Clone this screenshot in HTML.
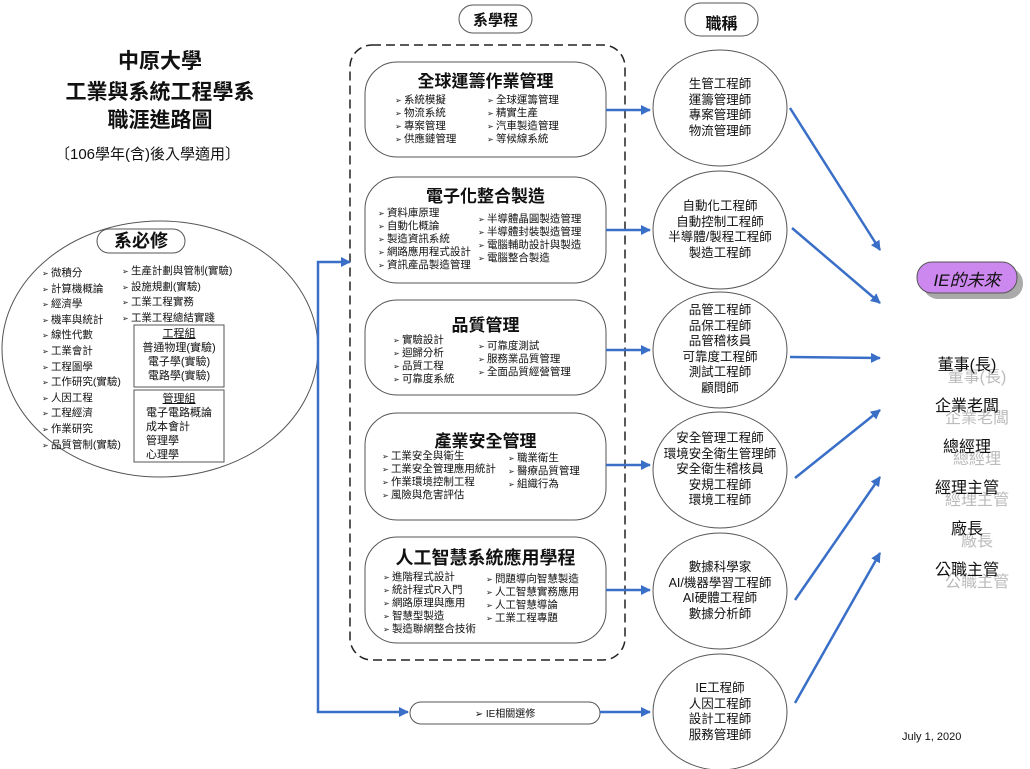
<!DOCTYPE html>
<html><head><meta charset="utf-8"><style>
body{margin:0;width:1030px;height:769px;background:#fff;position:relative;overflow:hidden;font-family:"Liberation Sans","Noto Sans CJK TC",sans-serif;color:#111}
.a{position:absolute;white-space:nowrap}
.t{font-weight:bold;font-size:21px;text-align:center;width:320px;left:0}
.ct{font-weight:bold;font-size:17px;text-align:center;width:241px}
.li{font-size:10.5px;line-height:13px}
.li div:before{content:"➢ ";font-size:8px}
.job{font-size:12.5px;line-height:15.5px;text-align:center;width:140px}
.car{font-size:16px;text-align:center;width:100px;left:917px}
.sh{color:#bbb}
</style></head><body>
<svg class="a" style="left:0;top:0" width="1030" height="769">
<defs><marker id="m" markerWidth="10" markerHeight="10" refX="9" refY="5" orient="auto" markerUnits="userSpaceOnUse"><path d="M0,0 L10,5 L0,10z" fill="#3a6fc8"/></marker></defs>
<ellipse cx="160" cy="349" rx="158" ry="128" fill="#fff" stroke="#555"/>
<rect x="97" y="229" width="88" height="24" rx="12" fill="#fff" stroke="#555"/>
<rect x="134" y="325" width="90" height="62" fill="none" stroke="#555"/>
<rect x="134" y="390" width="90" height="72" fill="none" stroke="#555"/>
<rect x="350" y="45" width="275" height="615" rx="22" fill="none" stroke="#222" stroke-width="1.5" stroke-dasharray="9,5"/>
<rect x="459" y="5" width="73" height="28" rx="14" fill="#fff" stroke="#555"/>
<rect x="685" y="3" width="73" height="33" rx="16" fill="#fff" stroke="#555"/>
<g fill="#fff" stroke="#555">
<rect x="365" y="62" width="241" height="95" rx="32"/>
<rect x="365" y="177" width="241" height="106" rx="32"/>
<rect x="365" y="300" width="241" height="95" rx="32"/>
<rect x="365" y="413" width="241" height="107" rx="32"/>
<rect x="365" y="537" width="241" height="106" rx="32"/>
<rect x="410" y="702" width="190" height="22" rx="11"/>
<ellipse cx="720" cy="108" rx="67" ry="58"/>
<ellipse cx="720" cy="230" rx="67" ry="59"/>
<ellipse cx="720" cy="350" rx="67" ry="58"/>
<ellipse cx="720" cy="470" rx="67" ry="58"/>
<ellipse cx="720" cy="591" rx="67" ry="58"/>
<ellipse cx="720" cy="712" rx="67" ry="58"/>
</g>
<g stroke="#3a6fc8" stroke-width="2.5" fill="none" marker-end="url(#m)">
<path d="M318,360 V262 H350"/>
<path d="M318,360 V712 H408"/>
<path d="M606,110 H650"/><path d="M606,230 H650"/><path d="M606,350 H650"/><path d="M606,465 H650"/><path d="M606,590 H650"/><path d="M600,712 H650"/>
<path d="M790,108 L880,250"/><path d="M792,228 L880,303"/><path d="M790,357 L880,358"/>
<path d="M795,478 L880,410"/><path d="M795,600 L880,477"/><path d="M795,703 L880,553"/>
</g>
<rect x="923" y="268" width="100" height="31" rx="15" fill="#aaa"/>
<rect x="917" y="262" width="100" height="31" rx="15" fill="#cc88ee" stroke="#555"/>
</svg>
<div class="a t" style="top:45px">中原大學</div>
<div class="a t" style="top:76px">工業與系統工程學系</div>
<div class="a t" style="top:104px">職涯進路圖</div>
<div class="a" style="left:55px;top:143px;font-size:15px">〔106學年(含)後入學適用〕</div>
<div class="a" style="left:97px;top:229px;width:88px;text-align:center;font-size:18px;font-weight:bold;line-height:24px">系必修</div>
<div class="a li" style="left:42px;top:266px;line-height:14.6px"><div>微積分</div><div>計算機概論</div><div>經濟學</div><div>機率與統計</div><div>線性代數</div><div>工業會計</div><div>工程圖學</div><div>工作研究(實驗)</div><div>人因工程</div><div>工程經濟</div><div>作業研究</div><div>品質管制(實驗)</div></div>
<div class="a li" style="left:122px;top:264px;line-height:14.6px"><div>生產計劃與管制(實驗)</div><div>設施規劃(實驗)</div><div>工業工程實務</div><div>工業工程總結實踐</div></div>
<div class="a" style="left:134px;top:327px;width:90px;text-align:center;font-size:11px;line-height:14px"><u>工程組</u><br>普通物理(實驗)<br>電子學(實驗)<br>電路學(實驗)</div>
<div class="a" style="left:146px;top:392px;font-size:11px;line-height:14px"><div style="width:66px;text-align:center"><u>管理組</u></div>電子電路概論<br>成本會計<br>管理學<br>心理學</div>
<div class="a" style="left:459px;top:9px;width:73px;text-align:center;font-size:15px;font-weight:bold">系學程</div>
<div class="a" style="left:685px;top:10px;width:73px;text-align:center;font-size:16px;font-weight:bold">職稱</div>

<div class="a ct" style="left:365px;top:67px">全球運籌作業管理</div>
<div class="a li" style="left:395px;top:94px"><div>系統模擬</div><div>物流系統</div><div>專案管理</div><div>供應鏈管理</div></div>
<div class="a li" style="left:487px;top:94px"><div>全球運籌管理</div><div>精實生產</div><div>汽車製造管理</div><div>等候線系統</div></div>

<div class="a ct" style="left:365px;top:182px">電子化整合製造</div>
<div class="a li" style="left:378px;top:207px"><div>資料庫原理</div><div>自動化概論</div><div>製造資訊系統</div><div>網路應用程式設計</div><div>資訊產品製造管理</div></div>
<div class="a li" style="left:478px;top:213px"><div>半導體晶圓製造管理</div><div>半導體封裝製造管理</div><div>電腦輔助設計與製造</div><div>電腦整合製造</div></div>

<div class="a ct" style="left:365px;top:311px">品質管理</div>
<div class="a li" style="left:393px;top:334px"><div>實驗設計</div><div>迴歸分析</div><div>品質工程</div><div>可靠度系統</div></div>
<div class="a li" style="left:478px;top:340px"><div>可靠度測試</div><div>服務業品質管理</div><div>全面品質經營管理</div></div>

<div class="a ct" style="left:365px;top:427px">產業安全管理</div>
<div class="a li" style="left:382px;top:450px"><div>工業安全與衛生</div><div>工業安全管理應用統計</div><div>作業環境控制工程</div><div>風險與危害評估</div></div>
<div class="a li" style="left:508px;top:452px"><div>職業衛生</div><div>醫療品質管理</div><div>組織行為</div></div>

<div class="a ct" style="left:365px;top:544px;font-size:18px">人工智慧系統應用學程</div>
<div class="a li" style="left:383px;top:571px"><div>進階程式設計</div><div>統計程式R入門</div><div>網路原理與應用</div><div>智慧型製造</div><div>製造聯網整合技術</div></div>
<div class="a li" style="left:486px;top:573px"><div>問題導向智慧製造</div><div>人工智慧實務應用</div><div>人工智慧導論</div><div>工業工程專題</div></div>

<div class="a" style="left:410px;top:705px;width:190px;text-align:center;font-size:10px">➢ IE相關選修</div>

<div class="a job" style="left:650px;top:77px">生管工程師<br>運籌管理師<br>專案管理師<br>物流管理師</div>
<div class="a job" style="left:650px;top:199px">自動化工程師<br>自動控制工程師<br>半導體/製程工程師<br>製造工程師</div>
<div class="a job" style="left:650px;top:303px">品管工程師<br>品保工程師<br>品管稽核員<br>可靠度工程師<br>測試工程師<br>顧問師</div>
<div class="a job" style="left:650px;top:431px">安全管理工程師<br>環境安全衛生管理師<br>安全衛生稽核員<br>安規工程師<br>環境工程師</div>
<div class="a job" style="left:650px;top:560px">數據科學家<br>AI/機器學習工程師<br>AI硬體工程師<br>數據分析師</div>
<div class="a job" style="left:650px;top:681px">IE工程師<br>人因工程師<br>設計工程師<br>服務管理師</div>

<div class="a" style="left:917px;top:266px;width:100px;text-align:center;font-size:17px;font-style:italic">IE的未來</div>
<div class="a car sh" style="top:363px;left:927px">董事(長)</div><div class="a car" style="top:351px">董事(長)</div>
<div class="a car sh" style="top:404px;left:927px">企業老闆</div><div class="a car" style="top:392px">企業老闆</div>
<div class="a car sh" style="top:445px;left:927px">總經理</div><div class="a car" style="top:433px">總經理</div>
<div class="a car sh" style="top:486px;left:927px">經理主管</div><div class="a car" style="top:474px">經理主管</div>
<div class="a car sh" style="top:527px;left:927px">廠長</div><div class="a car" style="top:515px">廠長</div>
<div class="a car sh" style="top:568px;left:927px">公職主管</div><div class="a car" style="top:556px">公職主管</div>
<div class="a" style="left:902px;top:731px;font-size:11px">July 1, 2020</div>
</body></html>
